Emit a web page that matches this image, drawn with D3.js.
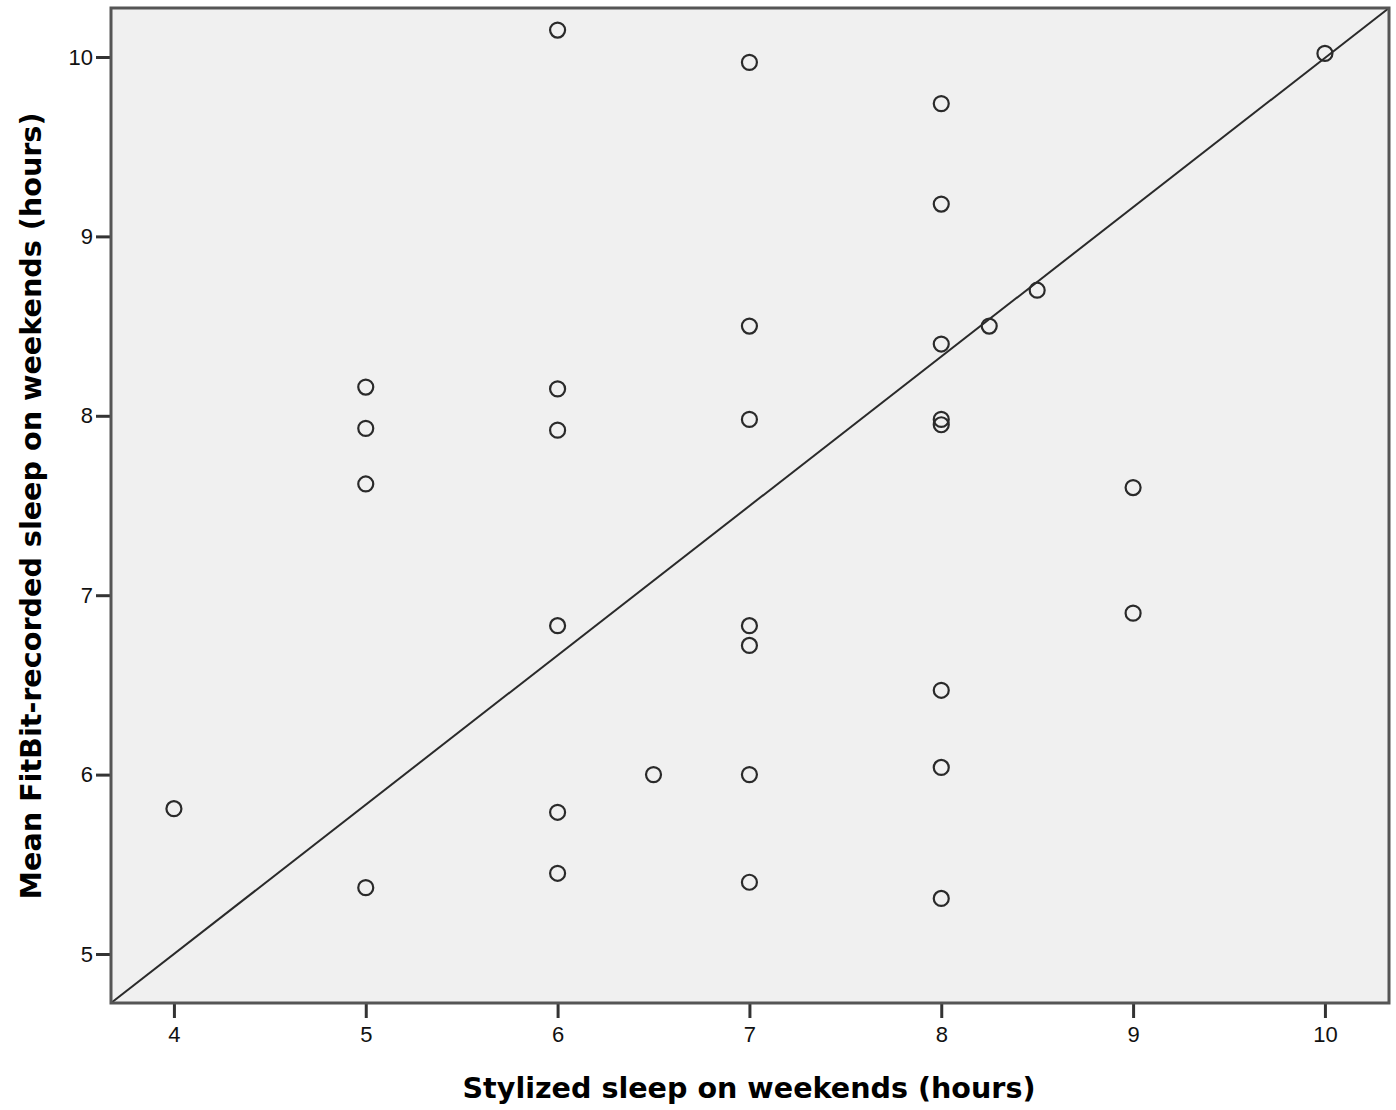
<!DOCTYPE html>
<html>
<head>
<meta charset="utf-8">
<script src="https://cdn.jsdelivr.net/npm/d3@7"></script>
<style>
  body { margin: 0; background: #fff; }
  .tick text { font-family: "Liberation Sans", Arial, sans-serif; font-size: 22px; fill: #111; }
  .title { font-family: "DejaVu Sans", sans-serif; font-weight: bold; font-size: 28px; fill: #000; }
</style>
</head>
<body>
<div id="chart"></div>
<script>
// stylized sleep (x) vs FitBit-recorded sleep (y), weekends
const stylized = [4, 5, 5, 5, 5, 6, 6, 6, 6, 6, 6, 6.5, 7, 7, 7, 7, 7, 7, 7,
                  8, 8, 8, 8, 8, 8, 8, 8, 8.25, 8.5, 9, 9, 10];
const fitbit   = [5.81, 8.16, 7.93, 7.62, 5.37, 10.15, 8.15, 7.92, 6.83, 5.79, 5.45, 6.00,
                  9.97, 8.50, 7.98, 6.83, 6.72, 6.00, 5.40,
                  9.74, 9.18, 8.40, 7.98, 7.95, 6.47, 6.04, 5.31, 8.50, 8.70, 7.60, 6.90, 10.02];
const xTicks = [4, 5, 6, 7, 8, 9, 10];
const yTicks = [5, 6, 7, 8, 9, 10];
const xDomain = [3.672, 10.334];
const yDomain = [4.727, 10.273];

const width = 1396, height = 1110;
const margin = { top: 8, right: 7, bottom: 107, left: 111 };

const svg = d3.select('#chart').append('svg')
  .attr('width', width)
  .attr('height', height);

const x = d3.scaleLinear().domain(xDomain).range([margin.left, width - margin.right]);
const y = d3.scaleLinear().domain(yDomain).range([height - margin.bottom, margin.top]);

// plot background
svg.append('rect')
  .attr('x', x(xDomain[0]))
  .attr('y', y(yDomain[1]))
  .attr('width', x(xDomain[1]) - x(xDomain[0]))
  .attr('height', y(yDomain[0]) - y(yDomain[1]))
  .attr('fill', '#f0f0f0');

// reference line corner to corner
svg.append('line')
  .attr('x1', x(xDomain[0])).attr('y1', y(yDomain[0]))
  .attr('x2', x(xDomain[1])).attr('y2', y(yDomain[1]))
  .attr('stroke', '#2a2a2a')
  .attr('stroke-width', 2);

// points
const pts = stylized.map((d, i) => ({ x: d, y: fitbit[i] }));
svg.selectAll('circle.pt')
  .data(pts)
  .enter().append('circle')
  .attr('class', 'pt')
  .attr('cx', d => x(d.x))
  .attr('cy', d => y(d.y))
  .attr('r', 7.5)
  .attr('fill', 'none')
  .attr('stroke', '#2a2a2a')
  .attr('stroke-width', 2.2);

// axes
const xAxis = svg.append('g')
  .attr('transform', 'translate(0,' + (height - margin.bottom) + ')')
  .call(d3.axisBottom(x).tickValues(xTicks).tickSize(15).tickPadding(8).tickFormat(d3.format('d')));
const yAxis = svg.append('g')
  .attr('transform', 'translate(' + margin.left + ',0)')
  .call(d3.axisLeft(y).tickValues(yTicks).tickSize(15).tickPadding(3).tickFormat(d3.format('d')));
[xAxis, yAxis].forEach(a => {
  a.select('.domain').remove();
  a.selectAll('.tick line').attr('stroke', '#333').attr('stroke-width', 3);
});

// frame
svg.append('rect')
  .attr('x', x(xDomain[0]))
  .attr('y', y(yDomain[1]))
  .attr('width', x(xDomain[1]) - x(xDomain[0]))
  .attr('height', y(yDomain[0]) - y(yDomain[1]))
  .attr('fill', 'none')
  .attr('stroke', '#555')
  .attr('stroke-width', 3);

// axis titles
svg.append('text')
  .attr('class', 'title')
  .attr('x', 749)
  .attr('y', 1098)
  .attr('text-anchor', 'middle')
  .attr('textLength', 573)
  .attr('lengthAdjust', 'spacingAndGlyphs')
  .text('Stylized sleep on weekends (hours)');

svg.append('text')
  .attr('class', 'title')
  .attr('transform', 'translate(41,506) rotate(-90)')
  .attr('text-anchor', 'middle')
  .attr('textLength', 787)
  .attr('lengthAdjust', 'spacingAndGlyphs')
  .text('Mean FitBit-recorded sleep on weekends (hours)');
</script>
</body>
</html>
